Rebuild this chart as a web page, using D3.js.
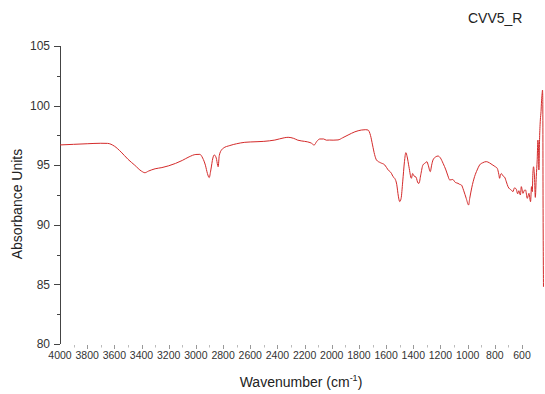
<!DOCTYPE html>
<html>
<head>
<meta charset="utf-8">
<script src="https://cdn.jsdelivr.net/npm/d3@7/dist/d3.min.js"></script>
<style>
  html, body { margin: 0; padding: 0; background: #fff; }
  svg { display: block; font-family: "Liberation Sans", Arial, sans-serif; }
</style>
</head>
<body>
<svg id="chart" width="545" height="394"></svg>
<script>
// IR spectrum of sample CVV5_R: wavenumber (cm^-1) and signal
const wavenumbers = [
  4000, 3900, 3800, 3700, 3650, 3600, 3550, 3500, 3450, 3400, 3375, 3350, 3300, 3250, 3200,
  3150, 3100, 3050, 3000, 2971, 2950, 2930, 2915, 2902, 2890, 2875, 2865, 2850, 2840, 2836,
  2828, 2810, 2799, 2750, 2700, 2640, 2600, 2500, 2419, 2350, 2321, 2280, 2250, 2200, 2160,
  2149, 2130, 2110, 2088, 2060, 2040, 2015, 1990, 1954, 1920, 1880, 1830, 1782, 1750, 1733,
  1715, 1700, 1685, 1671, 1640, 1610, 1585, 1561, 1549, 1537, 1522, 1510, 1500, 1490, 1478,
  1465, 1455, 1445, 1432, 1414, 1405, 1395, 1380, 1365, 1358, 1345, 1329, 1310, 1300, 1290,
  1275, 1265, 1255, 1235, 1218, 1200, 1181, 1160, 1145, 1132, 1110, 1090, 1071, 1060, 1046,
  1030, 1010, 993, 985, 970, 949, 930, 912, 890, 863, 840, 820, 800, 782, 770,
  765, 758, 752, 740, 728, 715, 703, 690, 679, 667, 655, 642, 632, 623, 612,
  605, 593, 582, 574, 561, 549, 537, 530, 524, 520, 515, 508, 502, 495, 488,
  483, 478, 476, 470, 465, 460, 456, 452, 449, 447, 445, 442
];
const absorbance = [
  96.70, 96.75, 96.80, 96.84, 96.83, 96.60, 96.10, 95.50, 95.00, 94.50, 94.37, 94.50, 94.70, 94.80, 94.95,
  95.15, 95.40, 95.70, 95.90, 95.91, 95.60, 95.00, 94.30, 93.96, 94.60, 95.60, 95.86, 95.60, 95.00, 94.87,
  95.80, 96.30, 96.42, 96.65, 96.80, 96.92, 96.95, 97.00, 97.11, 97.30, 97.34, 97.25, 97.10, 97.00, 96.90,
  96.84, 96.69, 97.00, 97.20, 97.20, 97.10, 97.11, 97.10, 97.12, 97.30, 97.53, 97.80, 97.95, 97.98, 97.95,
  97.50, 96.70, 95.90, 95.44, 95.20, 95.02, 94.60, 94.32, 94.04, 93.90, 93.40, 92.40, 91.95, 92.20, 93.60,
  95.30, 96.05, 95.70, 94.87, 93.90, 94.30, 94.10, 94.00, 93.50, 93.48, 94.20, 95.02, 95.20, 95.30, 95.00,
  94.46, 95.00, 95.44, 95.70, 95.77, 95.60, 95.16, 94.60, 94.10, 93.76, 93.80, 93.55, 93.48, 93.40, 93.34,
  92.90, 92.20, 91.66, 92.20, 93.10, 94.04, 94.60, 95.02, 95.20, 95.30, 95.20, 95.05, 94.90, 94.73, 94.20,
  93.90, 94.20, 94.30, 94.10, 94.00, 93.60, 93.20, 93.00, 92.92, 92.78, 93.10, 92.98, 92.60, 92.86, 92.50,
  93.20, 92.64, 92.90, 92.92, 92.22, 92.64, 91.94, 93.20, 92.78, 94.30, 94.87, 94.00, 92.30, 94.04, 95.50,
  97.11, 96.20, 94.60, 97.50, 98.80, 99.50, 100.40, 101.00, 101.30, 100.50, 92.00, 84.80
];

const xTickValues = d3.range(4000, 599, -200);
const xMinorTicks = d3.range(3900, 699, -200);
const yTickValues = [80, 85, 90, 95, 100, 105];
const yMinorTicks = [82.5, 87.5, 92.5, 97.5, 102.5];

const chartTitle = "CVV5_R";
const yTitle = "Absorbance Units";

const svg = d3.select("#chart");

// 4000 cm^-1 sits on the left axis, 600 cm^-1 near the right edge
const x = d3.scaleLinear().domain([4000, 600]).range([60, 522]);
const y = d3.scaleLinear().domain([80, 105]).range([344, 46]);

// Left axis: line, major/minor ticks and labels
const yAxis = svg.append("g").attr("class", "y-axis");
yAxis.append("line")
  .attr("x1", 60).attr("x2", 60)
  .attr("y1", y(105)).attr("y2", y(80))
  .attr("stroke", "#444").attr("stroke-width", 1)
  .attr("shape-rendering", "crispEdges");
yAxis.selectAll("line.major").data(yTickValues).join("line")
  .attr("class", "major")
  .attr("x1", 54).attr("x2", 60)
  .attr("y1", d => Math.round(y(d)) + 0.5).attr("y2", d => Math.round(y(d)) + 0.5)
  .attr("stroke", "#444");
yAxis.selectAll("line.minor").data(yMinorTicks).join("line")
  .attr("class", "minor")
  .attr("x1", 57).attr("x2", 60)
  .attr("y1", d => Math.round(y(d)) + 0.5).attr("y2", d => Math.round(y(d)) + 0.5)
  .attr("stroke", "#444");
yAxis.selectAll("text").data(yTickValues).join("text")
  .attr("x", 50).attr("y", d => y(d))
  .attr("dy", "0.35em")
  .attr("text-anchor", "end")
  .attr("font-size", 12)
  .attr("fill", "#333")
  .text(d => d);

// Bottom axis: light ticks and labels only, no baseline
const xAxis = svg.append("g").attr("class", "x-axis");
xAxis.selectAll("line.major").data(xTickValues.slice(1)).join("line")
  .attr("class", "major")
  .attr("x1", d => Math.round(x(d)) + 0.5).attr("x2", d => Math.round(x(d)) + 0.5)
  .attr("y1", 345).attr("y2", 349)
  .attr("stroke", "#999");
xAxis.selectAll("line.minor").data(xMinorTicks).join("line")
  .attr("class", "minor")
  .attr("x1", d => Math.round(x(d)) + 0.5).attr("x2", d => Math.round(x(d)) + 0.5)
  .attr("y1", 345).attr("y2", 347.5)
  .attr("stroke", "#bbb");
xAxis.selectAll("text").data(xTickValues).join("text")
  .attr("x", d => x(d)).attr("y", 359)
  .attr("text-anchor", "middle")
  .attr("font-size", 10.5)
  .attr("fill", "#333")
  .text(d => d);

// Spectrum trace
const points = wavenumbers.map((w, i) => [w, absorbance[i]]);
const line = d3.line()
  .x(d => x(d[0]))
  .y(d => y(d[1]))
  .curve(d3.curveMonotoneX);
svg.append("path")
  .datum(points)
  .attr("fill", "none")
  .attr("stroke", "#d42a2a")
  .attr("stroke-width", 1)
  .attr("stroke-linejoin", "round")
  .attr("d", line);

// Titles
svg.append("text")
  .attr("x", 468).attr("y", 23)
  .attr("font-size", 14)
  .attr("fill", "#222")
  .text(chartTitle);

svg.append("text")
  .attr("transform", "translate(22,204) rotate(-90)")
  .attr("text-anchor", "middle")
  .attr("font-size", 14)
  .attr("fill", "#222")
  .text(yTitle);

const xt = svg.append("text")
  .attr("x", 301).attr("y", 387)
  .attr("text-anchor", "middle")
  .attr("font-size", 14)
  .attr("fill", "#222");
xt.append("tspan").text("Wavenumber (cm");
xt.append("tspan").attr("font-size", 9).attr("dy", -6).text("-1");
xt.append("tspan").attr("dy", 6).text(")");
</script>
</body>
</html>
